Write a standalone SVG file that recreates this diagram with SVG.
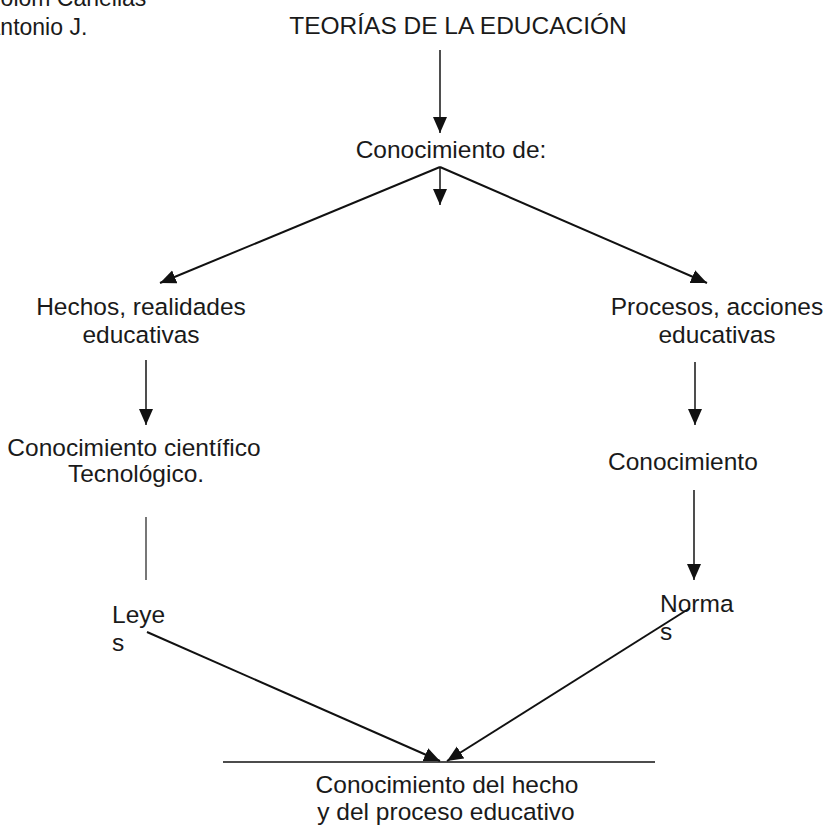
<svg xmlns="http://www.w3.org/2000/svg" width="828" height="825" viewBox="0 0 828 825">
<style>
text{font-family:"Liberation Sans",Arial,sans-serif;font-size:24.5px;fill:#1a1a1a}
.c{text-anchor:middle}
.ln{stroke:#111;stroke-width:2;fill:none}
.v{stroke:#222;stroke-width:1.6;fill:none}
</style>
<defs>
<marker id="ah" markerUnits="userSpaceOnUse" markerWidth="17" markerHeight="15" refX="16" refY="7" orient="auto" viewBox="0 0 17 15">
<path d="M0,0 L16,7 L0,14 z" fill="#111"/>
</marker>
</defs>
<rect width="828" height="825" fill="#fff"/>
<g id="author">
<text x="-16" y="6" style="font-size:23px">Colom Canellas</text>
<text x="-15" y="35" style="font-size:23px">Antonio J.</text>
</g>
<g id="n-title"><text class="c" x="458" y="34">TEORÍAS DE LA EDUCACIÓN</text></g>
<g id="n-conoc"><text class="c" x="451" y="158">Conocimiento de:</text></g>
<g id="n-hechos"><text class="c" x="141" y="315">Hechos, realidades</text><text class="c" x="141" y="343">educativas</text></g>
<g id="n-procesos"><text class="c" x="717" y="315">Procesos, acciones</text><text class="c" x="717" y="343">educativas</text></g>
<g id="n-cientifico"><text class="c" x="134" y="456">Conocimiento científico</text><text class="c" x="136" y="482">Tecnológico.</text></g>
<g id="n-conoc2"><text x="608" y="470">Conocimiento</text></g>
<g id="n-leyes"><text x="112" y="623">Leye</text><text x="112" y="651">s</text></g>
<g id="n-normas"><text x="660" y="612">Norma</text><text x="660" y="640">s</text></g>
<g id="n-final"><text class="c" x="447" y="793">Conocimiento del hecho</text><text class="c" x="446" y="820">y del proceso educativo</text></g>
<g id="connectors">
<line class="v" x1="440" y1="50" x2="440" y2="133" marker-end="url(#ah)"/>
<line class="v" x1="440" y1="167" x2="440" y2="205" marker-end="url(#ah)"/>
<line class="ln" x1="440" y1="167" x2="160" y2="283" marker-end="url(#ah)"/>
<line class="ln" x1="440" y1="167" x2="707" y2="283" marker-end="url(#ah)"/>
<line class="v" x1="146" y1="360" x2="146" y2="425" marker-end="url(#ah)"/>
<line class="v" x1="695" y1="362" x2="695" y2="425" marker-end="url(#ah)"/>
<line x1="146" y1="517" x2="146" y2="580" stroke="#555" stroke-width="1.6"/>
<line class="v" x1="694" y1="490" x2="694" y2="580" marker-end="url(#ah)"/>
<line class="ln" x1="147" y1="632" x2="440" y2="761" marker-end="url(#ah)"/>
<line class="ln" x1="690" y1="608" x2="447" y2="761" marker-end="url(#ah)"/>
<line x1="223" y1="762" x2="655" y2="762" stroke="#111" stroke-width="1.6"/>
</g>
</svg>
